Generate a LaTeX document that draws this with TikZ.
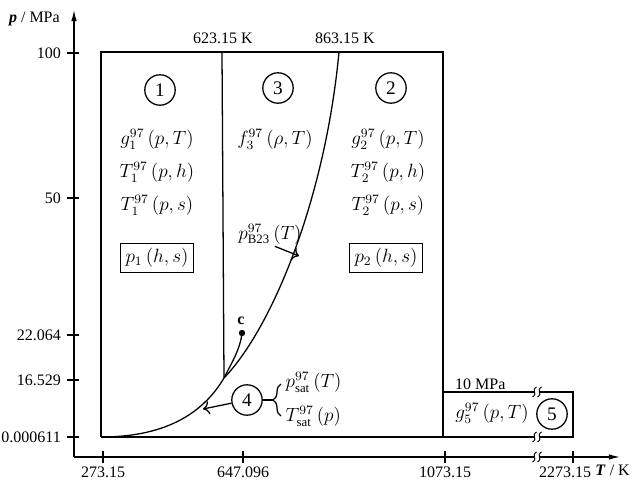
\documentclass[tikz,border=0pt]{standalone}
\usepackage{fontspec}
\setmainfont{Liberation Serif}
\usetikzlibrary{arrows.meta,decorations.pathreplacing}
\begin{document}
\begin{tikzpicture}[x=0.625pt,y=-0.625pt,font=\normalsize,line width=0.8pt,
  rg/.style={draw,circle,minimum size=19pt,inner sep=0pt,font=\large},
  fn/.style={inner sep=0pt,font=\large},
  bx/.style={draw,inner sep=3pt,font=\large},
  tkl/.style={inner sep=1pt,font=\normalsize},
  ax/.style={-{Latex[length=7pt,width=3.5pt]}},
  ptr/.style={-{To[length=4pt]}}]
  \useasboundingbox (0,0) rectangle (634,485);
  % axes
  \coordinate (o) at (74,457);
  \coordinate (ytop) at (74,10);
  \coordinate (xend) at (620,457);
  \draw[ax] (o) -- (ytop);
  \draw[ax] (o) -- (xend);
  \node[tkl,anchor=east] (ylab) at (62,19) {\textbf{\textit{p}} / MPa};
  \node[tkl,anchor=east] (xlab) at (632,470) {\textbf{\textit{T}} / K};
  \foreach \y/\t in {53/100,198/50,335/22.064,380/16.529,437/0.000611}{
    \draw (67,\y) -- (79,\y);
    \node[tkl,anchor=east] at (63,\y) {\t};
  }
  \foreach \x/\lx/\t in {103/103/273.15,243/243/647.096,445/445/1073.15,573/565/2273.15}{
    \draw (\x,451) -- (\x,463);
    \node[tkl] at (\lx,472) {\t};
  }
  % region outline
  \draw (101,437) -- (101,52) -- (443,52) -- (443,437);
  \draw (101,437) -- (573,437) -- (573,392) -- (443,392);
  % breaks
  \foreach \y in {392,437,457}{
    \fill[white] (534,\y-3) rectangle (540,\y+3);
    \foreach \dx in {-2.5,2.5}
      \draw[line width=0.6pt] (537+\dx+2,\y-5) .. controls (537+\dx-4,\y-1) and (537+\dx+4,\y+1) .. (537+\dx-2,\y+5);
  }
  % boundaries
  \coordinate (tp) at (101,437);
  \coordinate (jn) at (224,378);
  \coordinate (cp) at (242,333);
  \draw (222,52) -- (jn);
  \draw (tp) .. controls (170,437) and (205,410) .. (jn) .. controls (232,362) and (240,350) .. (cp);
  \draw (jn) .. controls (272,328) and (325,200) .. (339,52);
  \fill (cp) circle[radius=2pt];
  \node[font=\bfseries] (clab) at (241,321) {c};
  \node[tkl] (t623) at (223,38) {623.15 K};
  \node[tkl] (t863) at (345,38) {863.15 K};
  % region 1
  \node[rg] (r1) at (160,90) {1};
  \node[fn] (g1) at (157,140) {$g_1^{\smash{97}}\,(p,T)$};
  \node[fn] (th1) at (157,173) {$T_1^{\smash{97}}\,(p,h)$};
  \node[fn] (ts1) at (157,206) {$T_1^{\smash{97}}\,(p,s)$};
  \node[bx] (p1) at (157,258) {$p_1\,(h,s)$};
  % region 3
  \node[rg] (r3) at (278,88) {3};
  \node[fn] (f3) at (275,140) {$f_3^{\smash{97}}\,(\rho,T)$};
  \node[fn] (pb) at (270,234) {$p^{97}_{\mathrm{B23}}\,(T)$};
  \coordinate (sb) at (299,256);
  \draw[ptr] ([xshift=3pt,yshift=-1pt]pb.south) -- (sb);
  % region 2
  \node[rg] (r2) at (391,88) {2};
  \node[fn] (g2) at (388,140) {$g_2^{\smash{97}}\,(p,T)$};
  \node[fn] (th2) at (388,173) {$T_2^{\smash{97}}\,(p,h)$};
  \node[fn] (ts2) at (388,206) {$T_2^{\smash{97}}\,(p,s)$};
  \node[bx] (p2) at (386,258) {$p_2\,(h,s)$};
  % region 4
  \node[rg] (r4) at (247,400) {4};
  \coordinate (s4) at (203,409);
  \draw[ptr] (r4) -- (s4);
  \coordinate (bt) at (273,400);
  \draw (r4.east) -- (bt);
  \draw[decorate,decoration={brace,amplitude=5pt}] (281,416) -- (281,384);
  \node[fn,anchor=west] (psat) at (285,383) {$p^{\smash{97}}_{\mathrm{sat}}\,(T)$};
  \node[fn,anchor=west] (tsat) at (285,417) {$T^{\smash{97}}_{\mathrm{sat}}\,(p)$};
  % region 5
  \node[tkl,anchor=south west] (t10) at (453,392) {10 MPa};
  \node[fn] (g5) at (492,414) {$g_5^{\smash{97}}\,(p,T)$};
  \node[rg] (r5) at (552,414) {5};
\end{tikzpicture}
\end{document}
